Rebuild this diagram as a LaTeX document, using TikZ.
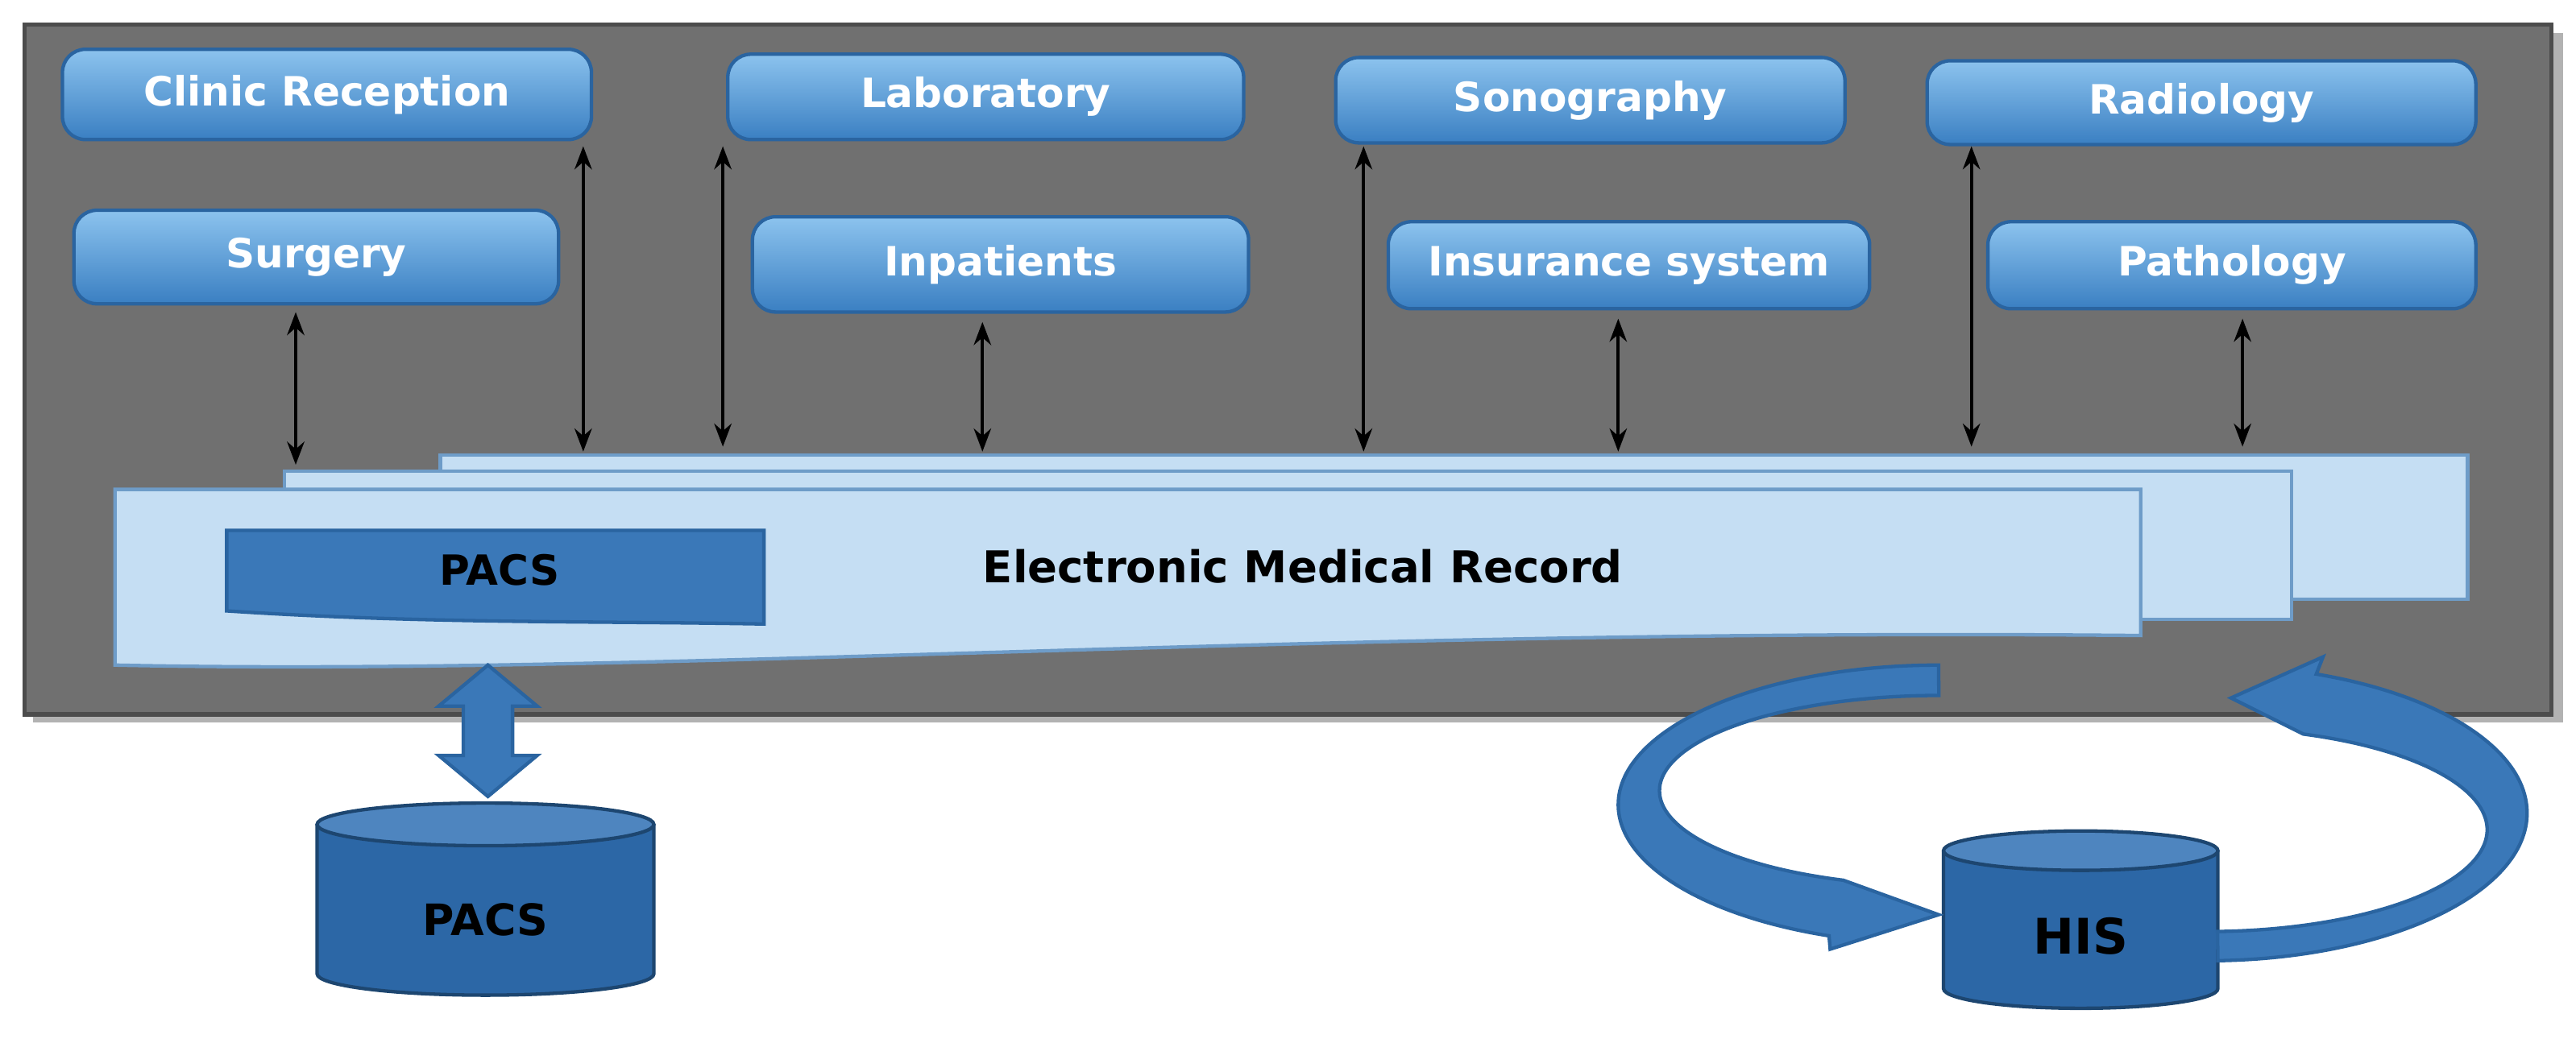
\documentclass[tikz,border=0pt]{standalone}
\usepackage{fontspec}
\setmainfont{DejaVu Sans}
\usetikzlibrary{arrows.meta}
\definecolor{bl1}{HTML}{8CC3EE}
\definecolor{bl2}{HTML}{3A7FC2}
\definecolor{blE}{HTML}{2A64A0}
\definecolor{pg}{HTML}{C5DEF3}
\definecolor{pgE}{HTML}{6E9CC8}
\definecolor{dk}{HTML}{3A78B8}
\definecolor{cyl}{HTML}{2C67A6}
\tikzset{
 box/.style={rounded corners=4pt, top color=bl1, bottom color=bl2, draw=blE, line width=0.6pt,
   text=white, font=\bfseries\fontsize{7}{8}\selectfont, inner sep=0pt},
 dbl/.style={{Stealth[length=4pt,width=3pt]}-{Stealth[length=4pt,width=3pt]}, line width=0.55pt, black},
 page/.style={fill=pg, draw=pgE, line width=0.6pt},
 barrow/.style={fill=dk, draw=blE, line width=0.6pt}
}
\begin{document}
\begin{tikzpicture}[x=1cm,y=1cm]
\useasboundingbox (0,0) rectangle (15.68,-6.351);
% panel
\fill[black!30] (0.20,-0.20) rectangle (15.60,-4.40);
\draw[fill=black!56, draw=black!70, line width=0.8pt] (0.15,-0.15) rectangle (15.53,-4.35);
% boxes
\node[box, minimum width=3.22cm, minimum height=0.55cm] (cr) at (1.99,-0.575) {Clinic Reception};
\node[box, minimum width=3.14cm, minimum height=0.52cm] (lab) at (6.00,-0.59) {Laboratory};
\node[box, minimum width=3.10cm, minimum height=0.52cm] (son) at (9.68,-0.61) {Sonography};
\node[box, minimum width=3.34cm, minimum height=0.51cm] (rad) at (13.40,-0.625) {Radiology};
\node[box, minimum width=2.95cm, minimum height=0.57cm] (sur) at (1.925,-1.565) {Surgery};
\node[box, minimum width=3.02cm, minimum height=0.58cm] (inp) at (6.09,-1.61) {Inpatients};
\node[box, minimum width=2.93cm, minimum height=0.53cm] (ins) at (9.915,-1.615) {Insurance system};
\node[box, minimum width=2.97cm, minimum height=0.53cm] (pat) at (13.585,-1.615) {Pathology};
% EMR pages
\draw[page] (2.68,-2.77) rectangle (15.02,-3.65);
\draw[page] (1.73,-2.87) rectangle (13.95,-3.77);
\draw[page] (0.70,-2.98) -- (13.03,-2.98) -- (13.03,-3.87) .. controls (8,-3.82) and (4,-4.12) .. (0.70,-4.05) -- cycle;
\node[font=\bfseries\fontsize{7.6}{9}\selectfont] (emr) at (7.93,-3.45) {Electronic Medical Record};
\draw[fill=dk, draw=blE, line width=0.6pt] (1.38,-3.23) -- (4.65,-3.23) -- (4.65,-3.80) .. controls (3.6,-3.78) and (2.6,-3.80) .. (1.38,-3.72) -- cycle;
\node[font=\bfseries\fontsize{7.2}{9}\selectfont] (pacsin) at (3.04,-3.47) {PACS};
% coordinates on EMR top
\coordinate (e1) at (1.80,-2.83);
\coordinate (e2) at (3.55,-2.75);
\coordinate (e3) at (4.40,-2.72);
\coordinate (e4) at (5.98,-2.75);
\coordinate (e5) at (8.30,-2.75);
\coordinate (e6) at (9.85,-2.75);
\coordinate (e7) at (12.00,-2.72);
\coordinate (e8) at (13.65,-2.72);
\draw[dbl] (sur.south -| e1) ++(0,-0.04) -- (e1);
\draw[dbl] (cr.south -| e2) ++(0,-0.03) -- (e2);
\draw[dbl] (lab.south -| e3) ++(0,-0.03) -- (e3);
\draw[dbl] (inp.south -| e4) ++(0,-0.05) -- (e4);
\draw[dbl] (son.south -| e5) ++(0,-0.01) -- (e5);
\draw[dbl] (ins.south -| e6) ++(0,-0.05) -- (e6);
\draw[dbl] (rad.south -| e7) ++(0,-0.0) -- (e7);
\draw[dbl] (pat.south -| e8) ++(0,-0.05) -- (e8);
% PACS double block arrow
\draw[barrow] (2.97,-4.05) -- (3.27,-4.30) -- (3.12,-4.30) -- (3.12,-4.60) -- (3.27,-4.60) -- (2.97,-4.85)
 -- (2.67,-4.60) -- (2.82,-4.60) -- (2.82,-4.30) -- (2.67,-4.30) -- cycle;
% cylinders
\draw[fill=cyl, draw=blE!70!black, line width=0.6pt] (1.93,-5.02) -- (1.93,-5.93) arc[start angle=180,end angle=360,x radius=1.025,y radius=0.13] -- (3.98,-5.02);
\draw[fill=dk!90!white, draw=blE!70!black, line width=0.6pt] (2.955,-5.02) ellipse[x radius=1.025,y radius=0.13];
\node[font=\bfseries\fontsize{7.5}{9}\selectfont] (pacsdb) at (2.955,-5.60) {PACS};
\draw[fill=cyl, draw=blE!70!black, line width=0.6pt] (11.83,-5.18) -- (11.83,-6.02) arc[start angle=180,end angle=360,x radius=0.835,y radius=0.12] -- (13.50,-5.18);
\draw[fill=dk!90!white, draw=blE!70!black, line width=0.6pt] (12.665,-5.18) ellipse[x radius=0.835,y radius=0.12];
\node[font=\bfseries\fontsize{8.5}{9}\selectfont] (his) at (12.665,-5.70) {HIS};
% curved arrows
\draw[barrow] (11.80,-4.05) arc[start angle=90,end angle=250,x radius=1.95,y radius=0.85]
  -- (11.14,-5.78) -- (11.80,-5.57) -- (11.22,-5.36)
  arc[start angle=250,end angle=90,x radius=1.70,y radius=0.58] -- cycle;
\draw[barrow] (13.50,-5.85) arc[start angle=-88,end angle=70,x radius=1.95,y radius=0.90]
  -- (14.14,-4.00) -- (13.58,-4.25) -- (14.02,-4.47)
  arc[start angle=70,end angle=-88,x radius=1.70,y radius=0.62] -- cycle;
\end{tikzpicture}
\end{document}
